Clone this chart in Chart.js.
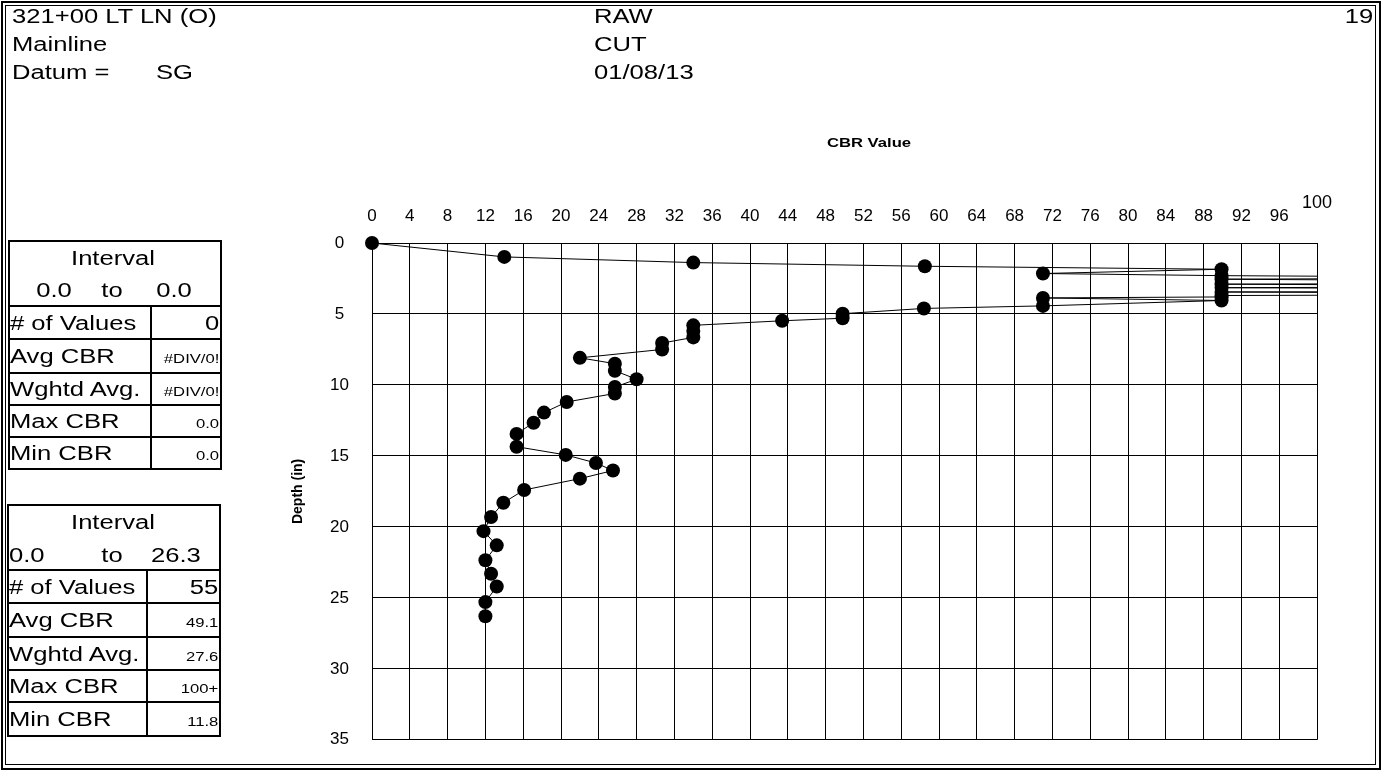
<!DOCTYPE html>
<html>
<head>
<meta charset="utf-8">
<title>DCP CBR profile</title>
<script src="https://cdn.jsdelivr.net/npm/chart.js@4.4.1/dist/chart.umd.min.js"></script>
<style>
  html, body { margin: 0; padding: 0; background: #fff; }
  #page { position: relative; width: 1384px; height: 773px; overflow: hidden; background: #fff;
          font-family: "Liberation Sans", Arial, sans-serif; color: #000; }
  #cbrChart { position: absolute; left: 0; top: 0; }
  .t { position: absolute; white-space: nowrap; line-height: 1; }
  .ln { position: absolute; background: #000; }
  .frame { position: absolute; box-sizing: border-box; border-style: solid; border-color: #000; }
</style>
</head>
<body>
<div id="page">
  <canvas id="cbrChart" width="1384" height="773"></canvas>
</div>
<script>
// ---- test data: depth of each reading (in) and the CBR computed for it ----
const depthIn = [0, 0.98, 1.38, 1.64, 1.85, 2.15, 2.3, 2.45, 2.55, 2.8, 2.9, 3.05, 3.15, 3.35, 3.45,
                 3.6, 3.7, 3.8, 3.87, 4.05, 4.43, 4.61, 4.98, 5.3, 5.48, 5.8, 6.2, 6.65, 7.05, 7.5,
                 8.09, 8.5, 9.0, 9.6, 10.15, 10.6, 11.2, 11.95, 12.66, 13.45, 14.35, 14.93, 15.5, 16.03, 16.6,
                 17.4, 18.3, 19.3, 20.3, 21.3, 22.35, 23.3, 24.2, 25.3, 26.3];
const cbrValue = [0, 14.0, 34.0, 58.5, 89.9, 71.0, 89.9, 130, 89.9, 150, 89.9, 140, 89.9, 180, 89.9,
                  145, 89.9, 89.9, 71.0, 89.9, 71.0, 58.4, 49.8, 49.8, 43.4, 34.0, 34.0, 34.0, 30.7, 30.7,
                  22.0, 25.7, 25.7, 28.0, 25.7, 25.7, 20.6, 18.2, 17.1, 15.3, 15.3, 20.5, 23.7, 25.5, 22.0,
                  16.1, 13.9, 12.6, 11.8, 13.2, 12.0, 12.6, 13.2, 12.0, 12.0];

// ---- axes ----
const cbrAxisMax = 100, cbrAxisStep = 4;
const depthAxisMax = 35, depthAxisStep = 5;
const cbrAxisTitle = 'CBR Value';
const depthAxisTitle = 'Depth (in)';

// ---- sheet header ----
const headerLeft = ['321+00 LT LN (O)', 'Mainline', 'Datum ='];
const datumValue = 'SG';
const headerMiddle = ['RAW', 'CUT', '01/08/13'];
const sheetNumber = '19';

// ---- summary tables ----
const statLabels = ['# of Values', 'Avg CBR', 'Wghtd Avg.', 'Max CBR', 'Min CBR'];
const intervalA = ['0.0', '0.0'];
const statsA = ['0', '#DIV/0!', '#DIV/0!', '0.0', '0.0'];
const intervalB = ['0.0', '26.3'];
const statsB = ['55', '49.1', '27.6', '100+', '11.8'];

const FONT = '"Liberation Sans", Arial, sans-serif';
const STRETCH = 1.28;
const page = document.getElementById('page');

function addText(str, x, y, size, align, bold) {
  const s = document.createElement('span');
  s.className = 't';
  s.textContent = str;
  s.style.fontSize = size + 'px';
  if (bold) s.style.fontWeight = 'bold';
  s.style.top = y + 'px';
  if (align === 'right') {
    s.style.right = (1384 - x) + 'px';
    s.style.transformOrigin = '100% 0';
    s.style.transform = 'translateY(-50%) scaleX(' + STRETCH + ')';
  } else if (align === 'center') {
    s.style.left = x + 'px';
    s.style.transform = 'translate(-50%,-50%) scaleX(' + STRETCH + ')';
  } else {
    s.style.left = x + 'px';
    s.style.transformOrigin = '0 0';
    s.style.transform = 'translateY(-50%) scaleX(' + STRETCH + ')';
  }
  page.appendChild(s);
}
function addLine(x, y, w, h) {
  const d = document.createElement('div');
  d.className = 'ln';
  Object.assign(d.style, { left: x + 'px', top: y + 'px', width: w + 'px', height: h + 'px' });
  page.appendChild(d);
}
function addFrame(x, y, w, h, bw) {
  const d = document.createElement('div');
  d.className = 'frame';
  Object.assign(d.style, { left: x + 'px', top: y + 'px', width: w + 'px', height: h + 'px', borderWidth: bw + 'px' });
  page.appendChild(d);
}

// page border (double rule)
addFrame(1, 1, 1380, 769, 2);
addFrame(5, 5, 1371, 760, 1.5);

// header block
const headerRows = [16, 44, 72];
headerLeft.forEach((s, i) => addText(s, 12, headerRows[i], 20));
addText(datumValue, 156, headerRows[2], 20);
headerMiddle.forEach((s, i) => addText(s, 594, headerRows[i], 20));
addText(sheetNumber, 1373, headerRows[0], 20, 'right');

// one summary table
function drawTable(x0, x1, top, headBottom, rowEdges, divX, interval, values, toCentered, yInt, yRange) {
  const w = x1 - x0;
  addLine(x0, top, w, 2);
  addLine(x0, top, 2, rowEdges[rowEdges.length - 1] - top);
  addLine(x1 - 2, top, 2, rowEdges[rowEdges.length - 1] - top);
  rowEdges.forEach(e => addLine(x0, e - 1, w, 2));
  addLine(divX - 1, headBottom, 2, rowEdges[rowEdges.length - 1] - headBottom);
  addText('Interval', 113, yInt, 20, 'center');
  if (toCentered) {
    addText(interval[0], 54, yRange, 20, 'center');
  } else {
    addText(interval[0], 9, yRange, 20);
  }
  addText('to', 112, yRange, 20, 'center');
  if (toCentered) addText(interval[1], 174, yRange, 20, 'center');
  else addText(interval[1], 151, yRange, 20);
  for (let i = 0; i < statLabels.length; i++) {
    const yc = (rowEdges[i] + rowEdges[i + 1]) / 2;
    addText(statLabels[i], x0 + 2, yc, 20);
    addText(values[i], x1 - 3, yc + (i === 0 ? 0 : 2), i === 0 ? 20 : 13, 'right');
  }
}
drawTable(8, 222, 240, 306, [306, 339, 373, 405, 437, 469], 151, intervalA, statsA, true, 258, 290);
drawTable(7, 221, 504, 570, [570, 603, 637, 670, 702, 736], 147, intervalB, statsB, false, 522, 555);

// extra chart text: the raised end label of the CBR axis and the axis caption
const sheetText = {
  id: 'sheetText',
  afterDraw(chart) {
    const { ctx, scales: { x } } = chart;
    ctx.save();
    ctx.fillStyle = '#000';
    ctx.textBaseline = 'middle';
    ctx.textAlign = 'center';
    ctx.font = '18px ' + FONT;
    ctx.fillText(String(cbrAxisMax), x.getPixelForValue(cbrAxisMax), 203);
    ctx.translate(869, 143);
    ctx.scale(STRETCH, 1);
    ctx.font = 'bold 13px ' + FONT;
    ctx.fillText(cbrAxisTitle, 0, 0);
    ctx.restore();
  }
};

new Chart(document.getElementById('cbrChart'), {
  type: 'scatter',
  data: {
    datasets: [{
      data: depthIn.map((d, i) => ({ x: cbrValue[i], y: d })),
      showLine: true,
      borderColor: '#000',
      borderWidth: 1,
      backgroundColor: '#000',
      pointRadius: 7,
      pointBorderWidth: 0,
      pointBackgroundColor: '#000',
      tension: 0,
      clip: { left: 10, top: 10, right: 1, bottom: 10 }
    }]
  },
  options: {
    responsive: false,
    animation: false,
    events: [],
    layout: { padding: { left: 0, top: 0, right: 67, bottom: 33 } },
    plugins: { legend: { display: false }, tooltip: { enabled: false } },
    scales: {
      x: {
        type: 'linear', position: 'top', min: 0, max: cbrAxisMax,
        afterFit: s => { s.height = 243; },
        ticks: {
          stepSize: cbrAxisStep, autoSkip: false, maxRotation: 0, padding: 16,
          color: '#000', font: { family: FONT, size: 17 },
          callback: v => (v === cbrAxisMax ? '' : String(v))
        },
        grid: { color: '#000', lineWidth: 1, drawTicks: false },
        border: { color: '#000', width: 1 }
      },
      y: {
        type: 'linear', reverse: true, min: 0, max: depthAxisMax,
        afterFit: s => { s.width = 372; },
        ticks: { stepSize: depthAxisStep, padding: 23, crossAlign: 'center', color: '#000', font: { family: FONT, size: 17 } },
        grid: { color: '#000', lineWidth: 1, drawTicks: false },
        border: { color: '#000', width: 1 },
        title: {
          display: true, text: depthAxisTitle, color: '#000',
          font: { family: FONT, size: 14, weight: 'bold' },
          padding: { top: 290, bottom: 0 }
        }
      }
    }
  },
  plugins: [sheetText]
});
</script>
</body>
</html>
